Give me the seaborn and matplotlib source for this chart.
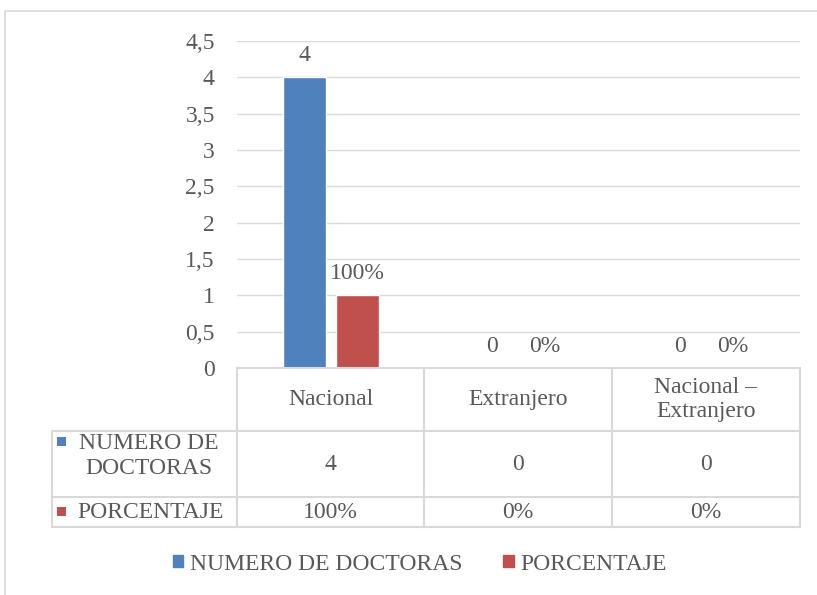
import seaborn as sns
import matplotlib.pyplot as plt
from matplotlib.patches import Rectangle, Patch
from matplotlib.lines import Line2D
import pandas as pd

# Data
categorias = ["Nacional", "Extranjero", "Nacional –\nExtranjero"]
numero_doctoras = [4, 0, 0]
porcentaje = [1.0, 0.0, 0.0]
series = ["NUMERO DE DOCTORAS", "PORCENTAJE"]
yticks = [0, 0.5, 1, 1.5, 2, 2.5, 3, 3.5, 4, 4.5]

azul = "#4F81BD"
rojo = "#C0504D"
gris_txt = "#595959"
gris_linea = "#D9D9D9"

df = pd.DataFrame({
    "categoria": categorias * 2,
    "valor": numero_doctoras + porcentaje,
    "serie": [series[0]] * 3 + [series[1]] * 3,
})

sns.set_style("white")
plt.rcParams["font.family"] = ["Liberation Serif", "DejaVu Serif"]
FS = 17

W, H = 817, 595
fig = plt.figure(figsize=(W / 100, H / 100), dpi=100)


def fx(x):
    return x / W


def fy(y):
    return 1 - y / H


# plot area
x0, x1, ytop, ybot = 237, 800, 41, 368
ax = fig.add_axes([fx(x0), fy(ybot), fx(x1) - fx(x0), fy(ytop) - fy(ybot)])
sns.barplot(data=df, x="categoria", y="valor", hue="serie", order=categorias,
            palette=[azul, rojo], width=0.564, gap=0.19, ax=ax, saturation=1)
ax.set_xlim(-0.5, 2.5)
ax.set_ylim(0, 4.5)
ax.set_yticks(yticks)
ax.set_yticklabels([("%g" % t).replace(".", ",") for t in yticks], fontsize=FS, color=gris_txt)
ax.tick_params(axis="y", length=0, pad=16)
ax.set_xticks([])
ax.set_xlabel("")
ax.set_ylabel("")
ax.yaxis.grid(True, color=gris_linea, linewidth=1)
ax.set_axisbelow(True)
for s in ax.spines.values():
    s.set_visible(False)
ax.get_legend().remove()

# data labels
ax.bar_label(ax.containers[0], labels=[str(v) for v in numero_doctoras],
             padding=8, fontsize=FS, color=gris_txt)
ax.bar_label(ax.containers[1], labels=["%d%%" % round(v * 100) for v in porcentaje],
             padding=8, fontsize=FS, color=gris_txt)

# outer chart border
fig.add_artist(Rectangle((fx(5), fy(640)), fx(900), fy(11) - fy(640), transform=fig.transFigure,
                         fill=False, edgecolor=gris_linea, linewidth=1.2))

# data table
cols = [237, 424, 612, 800]
rows = [368, 431, 497, 527]
lk = dict(color=gris_linea, linewidth=1.5, transform=fig.transFigure)
for xc in cols:
    fig.add_artist(Line2D([fx(xc), fx(xc)], [fy(rows[0]), fy(rows[-1])], **lk))
fig.add_artist(Line2D([fx(52), fx(52)], [fy(rows[1]), fy(rows[-1])], **lk))
fig.add_artist(Line2D([fx(237), fx(800)], [fy(rows[0]), fy(rows[0])], **lk))
for yr in rows[1:]:
    fig.add_artist(Line2D([fx(52), fx(800)], [fy(yr), fy(yr)], **lk))

centros = [(cols[i] + cols[i + 1]) / 2 for i in range(3)]
for i, cat in enumerate(categorias):
    fig.text(fx(centros[i]), fy((rows[0] + rows[1]) / 2), cat, ha="center", va="center",
             fontsize=FS, color=gris_txt, multialignment="center", linespacing=1.15)
    fig.text(fx(centros[i]), fy((rows[1] + rows[2]) / 2), str(numero_doctoras[i]),
             ha="center", va="center", fontsize=FS, color=gris_txt)
    fig.text(fx(centros[i]), fy((rows[2] + rows[3]) / 2), "%d%%" % round(porcentaje[i] * 100),
             ha="center", va="center", fontsize=FS, color=gris_txt)

# row headers
fig.add_artist(Rectangle((fx(57), fy(446)), fx(9), fy(437) - fy(446), transform=fig.transFigure,
                         color=azul, linewidth=0))
fig.text(fx(149), fy(456), "NUMERO DE\nDOCTORAS", ha="center", va="center", fontsize=FS,
         color=gris_txt, multialignment="center", linespacing=1.3)
fig.add_artist(Rectangle((fx(57), fy(516)), fx(9), fy(507) - fy(516), transform=fig.transFigure,
                         color=rojo, linewidth=0))
fig.text(fx(77), fy(512), "PORCENTAJE", ha="left", va="center", fontsize=FS, color=gris_txt)

# legend
handles = [Patch(color=azul), Patch(color=rojo)]
fig.legend(handles, series, loc="center", bbox_to_anchor=(fx(420), fy(564)), ncol=2,
           frameon=False, fontsize=FS, handlelength=0.45, handleheight=0.45, handletextpad=0.3,
           columnspacing=1.7, labelcolor=gris_txt)

fig.savefig("out.png", dpi=100)
